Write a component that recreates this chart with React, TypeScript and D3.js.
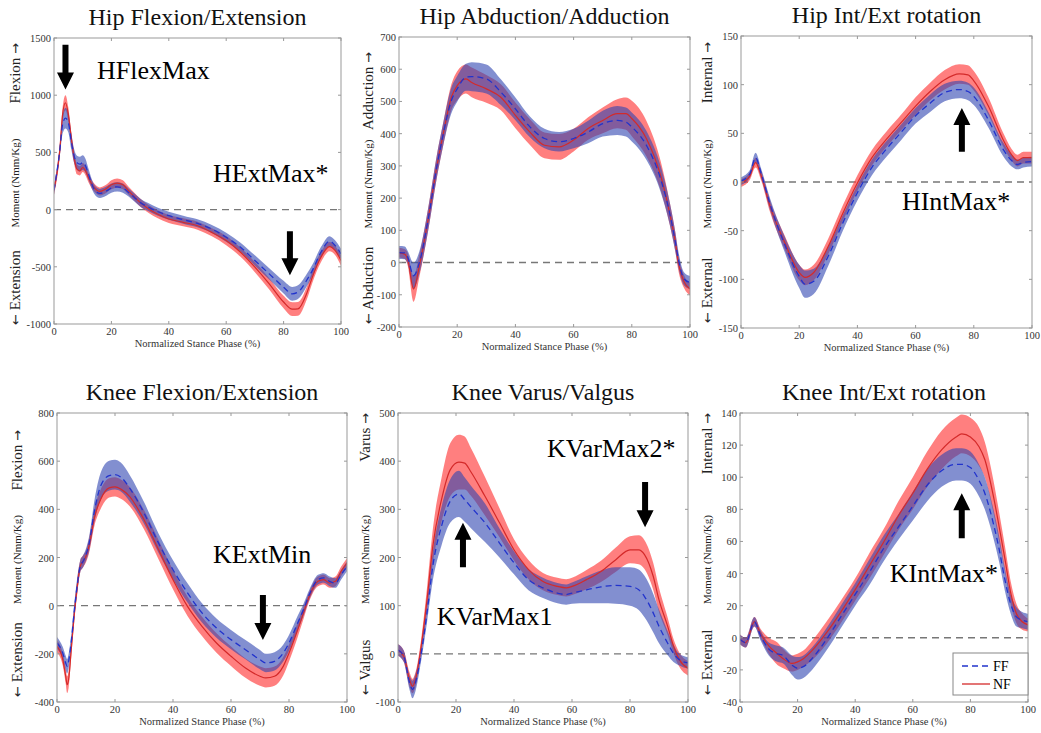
import React, { useEffect, useRef } from "react";
import * as d3 from "d3";

const W = 1041;
const H = 733;
const SERIF = '"Liberation Serif", "Times New Roman", serif';

// ---- values (x = % stance, y = Nmm/Kg) ----

// Hip flexion / extension
const hipFlexT = [0, 2, 3, 4, 5, 6, 7, 8, 9, 10, 11, 12, 14, 16, 18, 20, 22, 24, 26, 28, 30, 33, 36, 40, 45, 50, 55, 60, 65, 70, 75, 80, 83, 85, 88, 90, 93, 96, 98, 100];
const hipFlexNF = [170, 513, 832, 934, 832, 629, 455, 353, 339, 368, 339, 280, 193, 159, 179, 217, 231, 217, 164, 112, 63, 5, -39, -82, -111, -141, -199, -271, -373, -503, -649, -808, -870, -868, -736, -591, -416, -323, -358, -445];
const hipFlexNFsd = [40, 50, 60, 65, 60, 55, 50, 45, 40, 40, 40, 40, 35, 35, 35, 40, 40, 40, 35, 35, 35, 35, 35, 35, 35, 35, 35, 40, 40, 45, 50, 55, 60, 60, 55, 50, 45, 40, 40, 45];
const hipFlexFF = [170, 513, 745, 800, 760, 600, 469, 411, 397, 411, 382, 310, 179, 141, 159, 188, 199, 188, 150, 106, 63, 20, -16, -53, -88, -120, -170, -242, -329, -445, -562, -678, -736, -721, -620, -533, -373, -277, -315, -387];
const hipFlexFFsd = [40, 50, 80, 90, 85, 70, 60, 60, 65, 65, 60, 50, 40, 40, 40, 40, 40, 40, 35, 35, 35, 35, 35, 35, 35, 35, 35, 40, 40, 45, 50, 55, 60, 60, 55, 50, 45, 45, 45, 45];

// Hip abduction / adduction
const hipAbdT = [0, 2, 3, 5, 7, 10, 13, 15, 18, 20, 23, 25, 30, 35, 40, 45, 50, 55, 60, 65, 70, 75, 78, 80, 85, 90, 93, 95, 96, 98, 100];
const hipAbdNF = [31, 26, 10, -82, -10, 133, 298, 390, 513, 549, 570, 559, 539, 513, 457, 405, 364, 359, 380, 416, 441, 462, 462, 447, 385, 267, 154, 62, 0, -60, -82];
const hipAbdNFsd = [15, 15, 20, 40, 35, 35, 35, 35, 40, 45, 45, 46, 43, 40, 40, 40, 40, 40, 35, 35, 40, 45, 50, 55, 55, 45, 35, 30, 25, 20, 20];
const hipAbdFF = [31, 30, 16, -41, 0, 133, 298, 390, 503, 539, 575, 577, 570, 529, 477, 421, 385, 375, 385, 405, 431, 441, 436, 421, 364, 257, 154, 62, 10, -51, -62];
const hipAbdFFsd = [20, 20, 20, 40, 35, 35, 35, 35, 40, 40, 42, 45, 45, 40, 35, 32, 30, 30, 30, 35, 40, 45, 45, 45, 45, 40, 35, 30, 25, 20, 20];

// Hip internal / external rotation
const hipRotT = [0, 3, 5, 7, 10, 15, 20, 22, 25, 30, 35, 40, 45, 50, 55, 60, 65, 70, 75, 78, 80, 85, 90, 93, 95, 97, 100];
const hipRotNF = [-1, 6, 20, 6, -25, -62, -93, -98, -93, -66, -32, -1, 25, 44, 61, 78, 93, 105, 111, 110, 104, 78, 44, 28, 22, 25, 25];
const hipRotNFsd = [4, 4, 5, 5, 6, 7, 8, 8, 8, 8, 8, 8, 8, 8, 8, 9, 9, 10, 10, 10, 10, 9, 7, 6, 6, 6, 6];
const hipRotFF = [1, 8, 25, 8, -23, -64, -97, -105, -102, -76, -42, -11, 15, 34, 51, 68, 81, 92, 95, 93, 88, 64, 34, 22, 18, 20, 21];
const hipRotFFsd = [4, 4, 5, 5, 6, 8, 12, 14, 13, 10, 8, 8, 8, 8, 8, 8, 9, 9, 9, 9, 9, 8, 7, 6, 5, 5, 5];

// Knee flexion / extension
const kneeFlexT = [0, 2, 3, 3.5, 4, 5, 6, 7, 8, 9, 10, 11, 13, 15, 18, 20, 22, 25, 30, 35, 40, 45, 50, 55, 60, 65, 70, 72, 75, 78, 80, 83, 85, 87, 90, 92, 94, 96, 98, 100];
const kneeFlexNF = [-169, -224, -293, -328, -307, -169, -30, 80, 163, 184, 205, 246, 371, 440, 489, 493, 484, 454, 357, 233, 108, -3, -86, -155, -210, -259, -293, -300, -293, -252, -197, -100, -30, 39, 101, 108, 94, 101, 143, 177];
const kneeFlexNFsd = [25, 25, 30, 35, 35, 30, 30, 30, 25, 25, 25, 30, 35, 40, 40, 40, 40, 40, 40, 40, 40, 40, 40, 40, 40, 40, 40, 40, 40, 38, 35, 30, 25, 20, 20, 20, 20, 20, 20, 20];
const kneeFlexFF = [-155, -197, -238, -252, -231, -141, -17, 87, 163, 184, 212, 253, 399, 495, 540, 544, 534, 489, 385, 260, 149, 53, -30, -93, -141, -183, -224, -238, -231, -197, -155, -72, -17, 46, 108, 115, 101, 94, 129, 163];
const kneeFlexFFsd = [25, 25, 30, 30, 30, 30, 30, 30, 25, 25, 25, 30, 45, 55, 62, 62, 60, 55, 45, 40, 40, 40, 40, 40, 40, 40, 40, 38, 38, 35, 33, 30, 25, 20, 20, 20, 20, 20, 20, 20];

// Knee varus / valgus
const kneeVarT = [0, 2, 4, 5, 6, 8, 10, 12, 15, 18, 21, 23, 25, 30, 35, 40, 45, 50, 55, 58, 60, 65, 70, 75, 80, 83, 85, 88, 90, 93, 95, 97, 100];
const kneeVarNF = [8, -5, -54, -67, -54, 16, 112, 223, 320, 382, 398, 396, 379, 327, 272, 216, 175, 150, 140, 137, 140, 154, 171, 195, 216, 216, 206, 161, 112, 57, 16, -12, -30];
const kneeVarNFsd = [12, 12, 15, 15, 15, 15, 25, 35, 45, 55, 57, 55, 50, 40, 30, 22, 20, 18, 18, 18, 18, 20, 22, 25, 28, 30, 30, 28, 25, 18, 15, 15, 15];
const kneeVarFF = [8, -5, -60, -74, -60, 1, 85, 182, 265, 317, 332, 320, 306, 272, 230, 189, 154, 137, 126, 123, 126, 133, 139, 142, 140, 133, 119, 85, 57, 22, 1, -12, -19];
const kneeVarFFsd = [12, 12, 15, 18, 18, 15, 20, 30, 40, 45, 48, 46, 44, 40, 30, 24, 22, 21, 21, 21, 22, 28, 34, 38, 40, 42, 43, 40, 35, 25, 18, 12, 12];

// Knee internal / external rotation
const kneeRotT = [0, 2, 5, 7, 10, 13, 15, 18, 20, 22, 25, 30, 35, 40, 45, 50, 55, 60, 65, 70, 75, 77, 80, 83, 85, 88, 90, 92, 94, 96, 98, 100];
const kneeRotNF = [-1, -3, 10, 3, -5, -10, -13, -16, -15, -13, -8, 3, 16, 30, 45, 60, 76, 90, 105, 117, 125, 127, 125, 119, 111, 88, 69, 49, 28, 15, 10, 8];
const kneeRotNFsd = [3, 3, 3, 3, 5, 7, 6, 5, 5, 5, 6, 7, 7, 7, 8, 8, 9, 10, 11, 12, 12, 12, 12, 12, 11, 10, 9, 8, 7, 6, 5, 4];
const kneeRotFF = [-1, -3, 10, 2, -7, -10, -11, -17, -19, -18, -13, -1, 13, 27, 41, 56, 69, 82, 95, 104, 108, 108, 106, 98, 90, 71, 55, 36, 21, 13, 11, 10];
const kneeRotFFsd = [3, 3, 3, 3, 4, 5, 5, 6, 7, 7, 7, 7, 7, 7, 8, 8, 8, 9, 10, 10, 10, 10, 10, 10, 10, 9, 8, 7, 6, 6, 5, 5];

const xTicks = [0, 20, 40, 60, 80, 100];

const panels = [
  {
    title: "Hip Flexion/Extension", box: [54, 38, 341, 324], yDomain: [-1000, 1500], yStep: 500,
    t: hipFlexT, nf: hipFlexNF, nfSd: hipFlexNFsd, ff: hipFlexFF, ffSd: hipFlexFFsd,
    pos: "Flexion", neg: "Extension", labX: 15, posY: 43, negY: 325,
    arrows: [{ x: 4, from: 1440, to: 1050 }, { x: 82.2, from: -190, to: -573 }],
    notes: [{ text: "HFlexMax", x: 15, y: 1143 }, { text: "HExtMax*", x: 55.4, y: 237 }],
  },
  {
    title: "Hip Abduction/Adduction", box: [399, 37, 690, 327], yDomain: [-200, 700], yStep: 100,
    t: hipAbdT, nf: hipAbdNF, nfSd: hipAbdNFsd, ff: hipAbdFF, ffSd: hipAbdFFsd,
    pos: "Adduction", neg: "Abduction", labX: 368, posY: 52, negY: 324,
    arrows: [], notes: [],
  },
  {
    title: "Hip Int/Ext rotation", box: [741, 36, 1032, 328], yDomain: [-150, 150], yStep: 50,
    t: hipRotT, nf: hipRotNF, nfSd: hipRotNFsd, ff: hipRotFF, ffSd: hipRotFFsd,
    pos: "Internal", neg: "External", labX: 707, posY: 42, negY: 323,
    arrows: [{ x: 75.9, from: 31, to: 76 }],
    notes: [{ text: "HIntMax*", x: 55.3, y: -29 }],
  },
  {
    title: "Knee Flexion/Extension", box: [57, 413, 347, 702], yDomain: [-400, 800], yStep: 200,
    t: kneeFlexT, nf: kneeFlexNF, nfSd: kneeFlexNFsd, ff: kneeFlexFF, ffSd: kneeFlexFFsd,
    pos: "Flexion", neg: "Extension", labX: 17, posY: 430, negY: 697,
    arrows: [{ x: 71, from: 44, to: -143 }],
    notes: [{ text: "KExtMin", x: 53.8, y: 177 }],
  },
  {
    title: "Knee Varus/Valgus", box: [398, 413, 688, 702], yDomain: [-100, 500], yStep: 100,
    t: kneeVarT, nf: kneeVarNF, nfSd: kneeVarNFsd, ff: kneeVarFF, ffSd: kneeVarFFsd,
    pos: "Varus", neg: "Valgus", labX: 365, posY: 413, negY: 695,
    arrows: [{ x: 22.4, from: 180, to: 272 }, { x: 85.2, from: 357, to: 263 }],
    notes: [{ text: "KVarMax2*", x: 51.4, y: 409 }, { text: "KVarMax1", x: 13.4, y: 60 }],
  },
  {
    title: "Knee Int/Ext rotation", box: [740, 413, 1028, 702], yDomain: [-40, 140], yStep: 20,
    t: kneeRotT, nf: kneeRotNF, nfSd: kneeRotNFsd, ff: kneeRotFF, ffSd: kneeRotFFsd,
    pos: "Internal", neg: "External", labX: 707, posY: 413, negY: 695,
    arrows: [{ x: 77, from: 62, to: 90 }],
    notes: [{ text: "KIntMax*", x: 52, y: 35 }],
    legend: true,
  },
];

const RED_FILL = "#ff3b3b", BLUE_FILL = "#2f45b0";
const RED_LINE = "#d42a2a", BLUE_LINE = "#2233cc";
const ARROW_FONT = '"DejaVu Sans", sans-serif';

function drawPanel(svg: any, p: any, idx: number) {
  const [x0, y0, x1, y1] = p.box;
  const x = d3.scaleLinear().domain([0, 100]).range([x0, x1]);
  const y = d3.scaleLinear().domain(p.yDomain).range([y1, y0]);
  const yTicks = d3.range(p.yDomain[0], p.yDomain[1] + 1, p.yStep);
  const g = svg.append("g");

  const clipId = "clip" + idx;
  g.append("clipPath").attr("id", clipId)
    .append("rect").attr("x", x0).attr("y", y0).attr("width", x1 - x0).attr("height", y1 - y0);

  // title
  g.append("text").attr("x", (x0 + x1) / 2).attr("y", y0 - 13)
    .attr("text-anchor", "middle").attr("font-size", 24).attr("fill", "#111").text(p.title);

  const plot = g.append("g").attr("clip-path", `url(#${clipId})`);

  // zero line
  plot.append("line").attr("x1", x0).attr("x2", x1).attr("y1", y(0)).attr("y2", y(0))
    .attr("stroke", "#777").attr("stroke-width", 1.4).attr("stroke-dasharray", "7,5");

  const idxs = d3.range(p.t.length);
  const band = (m: number[], s: number[]) => d3.area<number>()
    .curve(d3.curveMonotoneX)
    .x(i => x(p.t[i])).y0(i => y(m[i] - s[i])).y1(i => y(m[i] + s[i]))(idxs);
  const mean = (m: number[]) => d3.line<number>()
    .curve(d3.curveMonotoneX).x(i => x(p.t[i])).y(i => y(m[i]))(idxs);

  plot.append("path").attr("d", band(p.nf, p.nfSd)).attr("fill", RED_FILL).attr("fill-opacity", 0.65);
  plot.append("path").attr("d", band(p.ff, p.ffSd)).attr("fill", BLUE_FILL).attr("fill-opacity", 0.6);
  plot.append("path").attr("d", mean(p.nf)).attr("fill", "none").attr("stroke", RED_LINE).attr("stroke-width", 1.2);
  plot.append("path").attr("d", mean(p.ff)).attr("fill", "none").attr("stroke", BLUE_LINE)
    .attr("stroke-width", 1.3).attr("stroke-dasharray", "6,4");

  // axes box + inward ticks on all sides
  g.append("rect").attr("x", x0).attr("y", y0).attr("width", x1 - x0).attr("height", y1 - y0)
    .attr("fill", "none").attr("stroke", "#999");
  xTicks.forEach(t => {
    g.append("line").attr("x1", x(t)).attr("x2", x(t)).attr("y1", y1).attr("y2", y1 - 3).attr("stroke", "#999");
    g.append("line").attr("x1", x(t)).attr("x2", x(t)).attr("y1", y0).attr("y2", y0 + 3).attr("stroke", "#999");
    g.append("text").attr("x", x(t)).attr("y", y1 + 11).attr("text-anchor", "middle")
      .attr("font-size", 10.5).attr("fill", "#333").text(t);
  });
  yTicks.forEach(v => {
    g.append("line").attr("x1", x0).attr("x2", x0 + 3).attr("y1", y(v)).attr("y2", y(v)).attr("stroke", "#999");
    g.append("line").attr("x1", x1).attr("x2", x1 - 3).attr("y1", y(v)).attr("y2", y(v)).attr("stroke", "#999");
    g.append("text").attr("x", x0 - 3).attr("y", y(v) + 4).attr("text-anchor", "end")
      .attr("font-size", 10.5).attr("fill", "#333").text(v);
  });

  g.append("text").attr("x", (x0 + x1) / 2).attr("y", y1 + 23).attr("text-anchor", "middle")
    .attr("font-size", 10.5).attr("fill", "#333").text("Normalized Stance Phase (%)");

  // rotated y labels: "← negative   Moment (Nmm/Kg)   positive →"
  const rot = (ty: number, anchor: string, size: number) =>
    g.append("text").attr("transform", `translate(${p.labX},${ty}) rotate(-90)`)
      .attr("text-anchor", anchor).attr("dominant-baseline", "central")
      .attr("font-size", size).attr("fill", "#222");
  const top = rot(p.posY, "end", 15);
  top.append("tspan").text(p.pos + " ");
  top.append("tspan").attr("font-family", ARROW_FONT).attr("font-size", 13).text("→");
  const bot = rot(p.negY, "start", 15);
  bot.append("tspan").attr("font-family", ARROW_FONT).attr("font-size", 13).text("←");
  bot.append("tspan").text(" " + p.neg);
  rot((y0 + y1) / 2 + 2, "middle", 11).text("Moment (Nmm/Kg)");

  // arrows
  p.arrows.forEach((a: any) => {
    const px = x(a.x), ya = y(a.from), yb = y(a.to);
    const dir = yb > ya ? 1 : -1;
    const hl = 17, hw = 8.5, sw = 3;
    const yh = yb - dir * hl;
    g.append("path").attr("fill", "#000")
      .attr("d", `M${px - sw},${ya}L${px + sw},${ya}L${px + sw},${yh}L${px + hw},${yh}L${px},${yb}L${px - hw},${yh}L${px - sw},${yh}Z`);
  });

  p.notes.forEach((n: any) => {
    g.append("text").attr("x", x(n.x)).attr("y", y(n.y)).attr("font-size", 26).attr("fill", "#000").text(n.text);
  });

  if (p.legend) {
    const lw = 75, lh = 42;
    const lx = x1 - lw, ly = y1 - 7 - lh;
    const lg = g.append("g");
    lg.append("rect").attr("x", lx).attr("y", ly).attr("width", lw).attr("height", lh)
      .attr("fill", "#fff").attr("stroke", "#888");
    lg.append("line").attr("x1", lx + 9).attr("x2", lx + 37).attr("y1", ly + 13).attr("y2", ly + 13)
      .attr("stroke", BLUE_LINE).attr("stroke-width", 1.3).attr("stroke-dasharray", "6,4");
    lg.append("line").attr("x1", lx + 9).attr("x2", lx + 37).attr("y1", ly + 31).attr("y2", ly + 31)
      .attr("stroke", RED_LINE).attr("stroke-width", 1.3);
    lg.append("text").attr("x", lx + 40).attr("y", ly + 18).attr("font-size", 14).text("FF");
    lg.append("text").attr("x", lx + 40).attr("y", ly + 36).attr("font-size", 14).text("NF");
  }
}

export default function App() {
  const ref = useRef<SVGSVGElement>(null);

  useEffect(() => {
    const svg = d3.select(ref.current);
    svg.selectAll("*").remove();
    svg.append("rect").attr("width", W).attr("height", H).attr("fill", "#fff");
    panels.forEach((p, i) => drawPanel(svg, p, i));
  }, []);

  return (
    <svg ref={ref} width={W} height={H}
      style={{ position: "absolute", left: 0, top: 0, fontFamily: SERIF }} />
  );
}
